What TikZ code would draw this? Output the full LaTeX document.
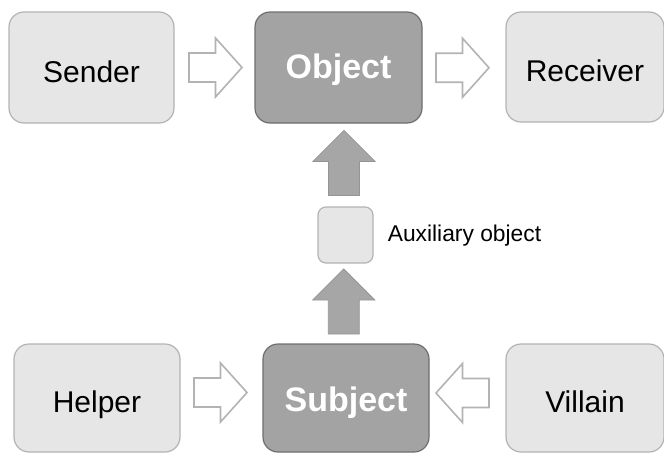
\documentclass[tikz,border=0pt]{standalone}
\usepackage{fontspec}
\setmainfont{Liberation Sans}
\usetikzlibrary{calc}

\definecolor{boxfill}{HTML}{E6E6E6}
\definecolor{boxline}{HTML}{B3B3B3}
\definecolor{darkfill}{HTML}{A3A3A3}
\definecolor{darkline}{HTML}{6E6E6E}
\definecolor{arrowfill}{HTML}{A6A6A6}
\definecolor{arrowline}{HTML}{959595}
\definecolor{hollowline}{HTML}{B3B3B3}

\tikzset{
  role/.style={draw=boxline, fill=boxfill, line width=1.2pt, rounded corners=15pt,
    inner sep=0pt, font=\fontsize{30}{36}\selectfont, text height=29pt, text depth=0pt},
  actant/.style={draw=darkline, fill=darkfill, line width=1.2pt, rounded corners=15pt,
    inner sep=0pt, text=white, font=\fontsize{34}{40}\selectfont\bfseries, text depth=0pt},
  auxbox/.style={draw=boxline, fill=boxfill, line width=1.2pt, rounded corners=8pt,
    inner sep=0pt, minimum width=55pt, minimum height=56pt},
  hollow/.pic={
    \draw[draw=hollowline, fill=white, line width=1.6pt]
      (-26.5,-14.5) -- (0,-14.5) -- (0,-29.5) -- (26.5,0) -- (0,29.5) -- (0,14.5)
      -- (-26.5,14.5) -- cycle;
  },
  solid/.pic={
    \draw[draw=arrowline, fill=arrowfill, line width=0.8pt]
      (-32.5,-15.5) -- (1.5,-15.5) -- (1.5,-31) -- (32.5,0) -- (1.5,31) -- (1.5,15.5)
      -- (-32.5,15.5) -- cycle;
  },
}

\begin{document}
\begin{tikzpicture}[x=1pt, y=-1pt]
  \useasboundingbox (0,0) rectangle (664,453);

  % top row
  \node[role, minimum width=165pt, minimum height=111pt] (sender) at (91.5,67.5) {Sender};
  \node[actant, minimum width=167pt, minimum height=111pt, text height=21pt] (object) at (338.5,67.5) {Object};
  \node[role, minimum width=158pt, minimum height=110pt] (receiver) at (585,67) {Receiver};

  % auxiliary object
  \node[auxbox] (aux) at (345.5,235) {};
  \node[anchor=base west, inner sep=0pt, font=\fontsize{22.8}{26}\selectfont] (auxlabel)
    at ($(aux.east)+(14,6.5)$) {Auxiliary object};

  % bottom row
  \node[role, minimum width=166pt, minimum height=108pt] (helper) at (97,398) {Helper};
  \node[actant, minimum width=166pt, minimum height=108pt, text height=27.4pt] (subject) at (346,398) {Subject};
  \node[role, minimum width=158pt, minimum height=108pt] (villain) at (585,398) {Villain};

  % hollow arrows between the rows' boxes
  \pic at ($(sender.east)!0.5!(object.west)+(1,0)$) {hollow};
  \pic at ($(object.east)!0.5!(receiver.west)+(-1.5,0.5)$) {hollow};
  \pic at ($(helper.east)!0.5!(subject.west)+(-1,-5.5)$) {hollow};
  \pic[rotate=180] at ($(subject.east)!0.5!(villain.west)+(-5,-5)$) {hollow};

  % solid arrows up the middle
  \pic[rotate=90] at ($(aux.north)+(-1.5,-43.5)$) {solid};
  \pic[rotate=90] at ($(aux.south)!0.5!(subject.north)+(-2,-2)$) {solid};
\end{tikzpicture}
\end{document}
